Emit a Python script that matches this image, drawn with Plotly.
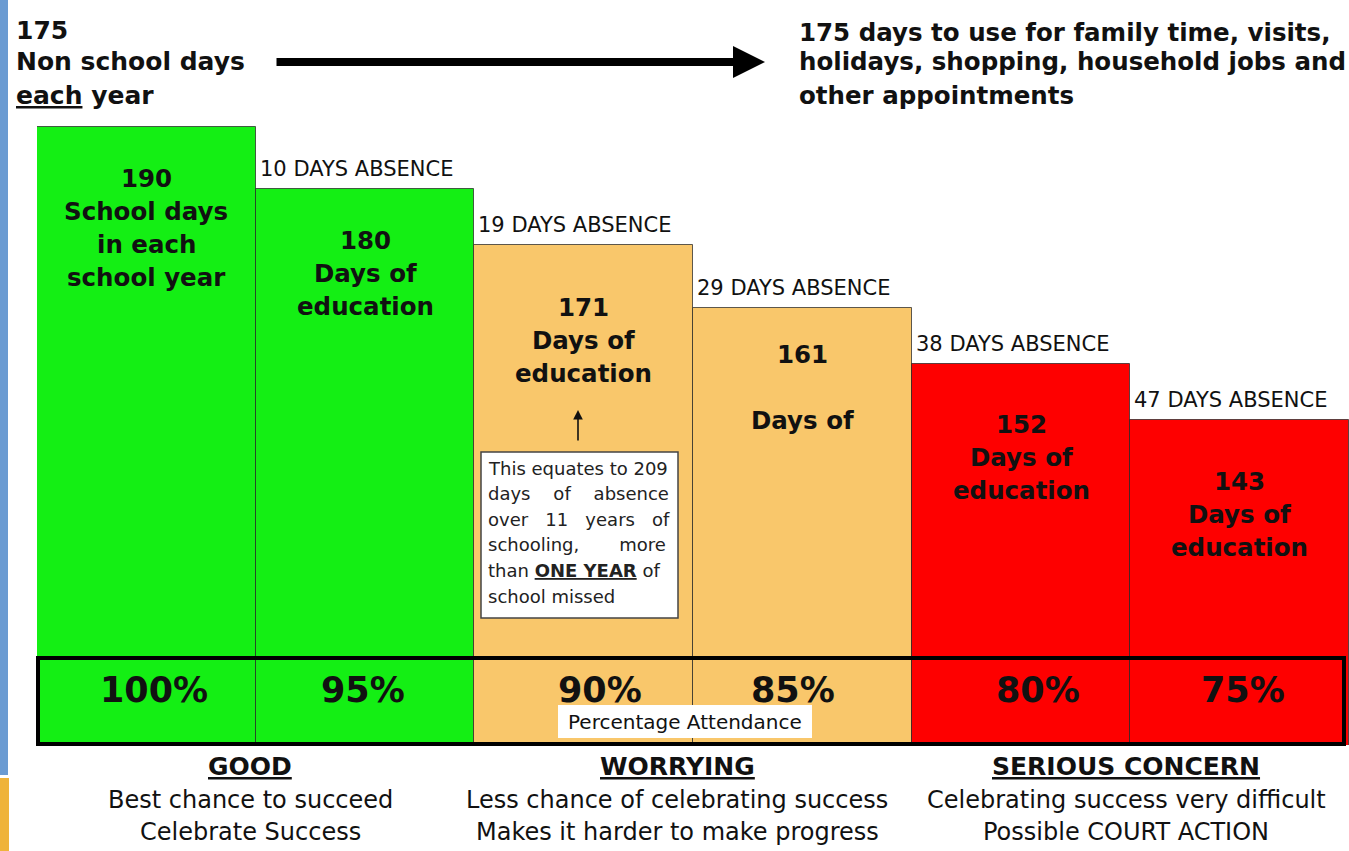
import plotly.graph_objects as go

# ---------------- data ----------------
school_days = [190, 180, 171, 161, 152, 143]
absence_days = [None, 10, 19, 29, 38, 47]
attendance = ["100%", "95%", "90%", "85%", "80%", "75%"]
bar_text = [
    ["190", "School days", "in each", "school year"],
    ["180", "Days of", "education"],
    ["171", "Days of", "education"],
    ["161", "", "Days of"],
    ["152", "Days of", "education"],
    ["143", "Days of", "education"],
]
bands = ["good", "good", "worry", "worry", "serious", "serious"]
groups = [
    ("GOOD", ["Best chance to succeed", "Celebrate Success"]),
    ("WORRYING", ["Less chance of celebrating success", "Makes it harder to make progress"]),
    ("SERIOUS CONCERN", ["Celebrating success very difficult", "Possible COURT ACTION"]),
]
non_school_days = 175
callout_lines = ["This equates to 209",
                 "days&nbsp;&nbsp;&nbsp; of&nbsp;&nbsp;&nbsp; absence",
                 "over&nbsp;&nbsp; 11&nbsp;&nbsp; years&nbsp;&nbsp; of",
                 "schooling,&nbsp;&nbsp;&nbsp;&nbsp;&nbsp;&nbsp; more",
                 "than <b><u>ONE YEAR</u></b> of", "school missed"]

# ---------------- style ----------------
COLORS = {"good": "#14ef14", "worry": "#f9c76b", "serious": "#fe0000"}
BOLD = "DejaVu Sans"
REG = "DejaVu Sans"
INK = "#111111"
W, H = 1349, 851
PL, PR, PT, PB = 37, 0, 0, 106
PW, PH = W - PL - PR, H - PT - PB


def px(x):
    return (x - PL) / PW


def py(y):
    return (PH + PT - y) / PH


TEXT_OFFSETS = [51, 51, 62, 47, 61, 62]
PCT_XSHIFT = [8, -2, 16, -9, 17, 3]
centers = [250, 677, 1126]

x = list(range(len(school_days)))

fig = go.Figure()
fig.add_trace(go.Bar(
    x=x, y=school_days, width=1,
    marker=dict(color=[COLORS[b] for b in bands],
                line=dict(color="rgba(40,40,40,0.75)", width=1)),
    hoverinfo="skip", showlegend=False,
))

ann = []
# text inside bars
for i, lines in enumerate(bar_text):
    for k, t in enumerate(lines):
        if not t:
            continue
        ann.append(dict(x=i, y=school_days[i], xref="x", yref="y", text=f"<b>{t}</b>",
                        showarrow=False, yanchor="middle", xanchor="center",
                        yshift=-(TEXT_OFFSETS[i] + 33 * k),
                        font=dict(family=BOLD, size=24.5, color=INK)))
# absence labels
for i, a in enumerate(absence_days):
    if a is None:
        continue
    ann.append(dict(x=i - 0.5, y=school_days[i], xref="x", yref="y",
                    text=f"{a} DAYS ABSENCE", showarrow=False,
                    xanchor="left", yanchor="middle", xshift=2, yshift=20,
                    font=dict(family=REG, size=21, color=INK)))
# attendance percentages
for i, p in enumerate(attendance):
    ann.append(dict(x=i, y=py(690), xref="x", yref="paper", text=f"<b>{p}</b>",
                    showarrow=False, xanchor="center", yanchor="middle",
                    xshift=PCT_XSHIFT[i],
                    font=dict(family=BOLD, size=35, color=INK)))
ann.append(dict(x=px(685), y=py(722), xref="paper", yref="paper",
                text="Percentage Attendance", showarrow=False,
                xanchor="center", yanchor="middle",
                font=dict(family=REG, size=20, color=INK)))

# top-left text
top_left = [f"<b>{non_school_days}</b>", "<b>Non school days</b>", "<b><u>each</u> year</b>"]
for t, yy in zip(top_left, [30, 62, 95]):
    ann.append(dict(x=px(14), y=py(yy), xref="paper", yref="paper", text=t,
                    showarrow=False, xanchor="left", yanchor="middle",
                    font=dict(family=BOLD, size=25, color=INK)))
top_right = [f"<b>{non_school_days} days to use for family time, visits,</b>",
             "<b>holidays, shopping, household jobs and</b>",
             "<b>other appointments</b>"]
for t, yy in zip(top_right, [33, 62, 95]):
    ann.append(dict(x=px(797), y=py(yy), xref="paper", yref="paper", text=t,
                    showarrow=False, xanchor="left", yanchor="middle",
                    font=dict(family=BOLD, size=24.5, color=INK)))
# big arrow
ann.append(dict(x=px(765), y=py(62), xref="paper", yref="paper", text="",
                showarrow=True, ax=-490, ay=0, arrowhead=2, arrowsize=0.8,
                arrowwidth=8, arrowcolor="#000000", standoff=0))
# small arrow in orange bar
ann.append(dict(x=px(578), y=py(410), xref="paper", yref="paper", text="",
                showarrow=True, ax=0, ay=32, arrowhead=2, arrowsize=1.2,
                arrowwidth=1.6, arrowcolor="#111111", standoff=0))
# callout text
for k, t in enumerate(callout_lines):
    ann.append(dict(x=px(486), y=py(468 + 25.6 * k), xref="paper", yref="paper",
                    text=t, showarrow=False, xanchor="left", yanchor="middle",
                    font=dict(family=REG, size=18, color="#222222")))
# bottom groups
for cx, (head, lines) in zip(centers, groups):
    ann.append(dict(x=px(cx), y=py(766), xref="paper", yref="paper",
                    text=f"<b><u>{head}</u></b>", showarrow=False,
                    xanchor="center", yanchor="middle",
                    font=dict(family=BOLD, size=25, color=INK)))
    for t, yy in zip(lines, [800, 832]):
        ann.append(dict(x=px(cx), y=py(yy), xref="paper", yref="paper",
                        text=t, showarrow=False, xanchor="center", yanchor="middle",
                        font=dict(family=REG, size=24, color=INK)))

shapes = [
    # attendance band outline
    dict(type="rect", xref="paper", yref="paper", x0=px(38), x1=px(1344),
         y0=py(744), y1=py(658), line=dict(color="#000000", width=4),
         fillcolor="rgba(0,0,0,0)", layer="above"),
    # white label box
    dict(type="rect", xref="paper", yref="paper", x0=px(558), x1=px(812),
         y0=py(738), y1=py(705), line=dict(width=0), fillcolor="#ffffff", layer="above"),
    # callout box
    dict(type="rect", xref="paper", yref="paper", x0=px(481), x1=px(678),
         y0=py(618), y1=py(452), line=dict(color="#444444", width=1.5),
         fillcolor="#ffffff", layer="above"),
    # slide decoration
    dict(type="rect", xref="paper", yref="paper", x0=px(0), x1=px(8),
         y0=py(775), y1=py(0), line=dict(width=0), fillcolor="#6b9bd2", layer="above"),
    dict(type="rect", xref="paper", yref="paper", x0=px(0), x1=px(9),
         y0=py(851), y1=py(778), line=dict(width=0), fillcolor="#efb33a", layer="above"),
]

fig.update_layout(
    width=W, height=H,
    margin=dict(l=PL, r=PR, t=PT, b=PB, pad=0),
    paper_bgcolor="#ffffff", plot_bgcolor="#ffffff",
    bargap=0,
    xaxis=dict(range=[-0.5, 5.5], visible=False, fixedrange=True),
    yaxis=dict(range=[90.8, 210.4], visible=False, fixedrange=True),
    annotations=ann, shapes=shapes, showlegend=False,
)

fig.write_html("out.html", config={"displayModeBar": False},
               post_script="document.body.style.margin='0';document.body.style.overflow='hidden';")
